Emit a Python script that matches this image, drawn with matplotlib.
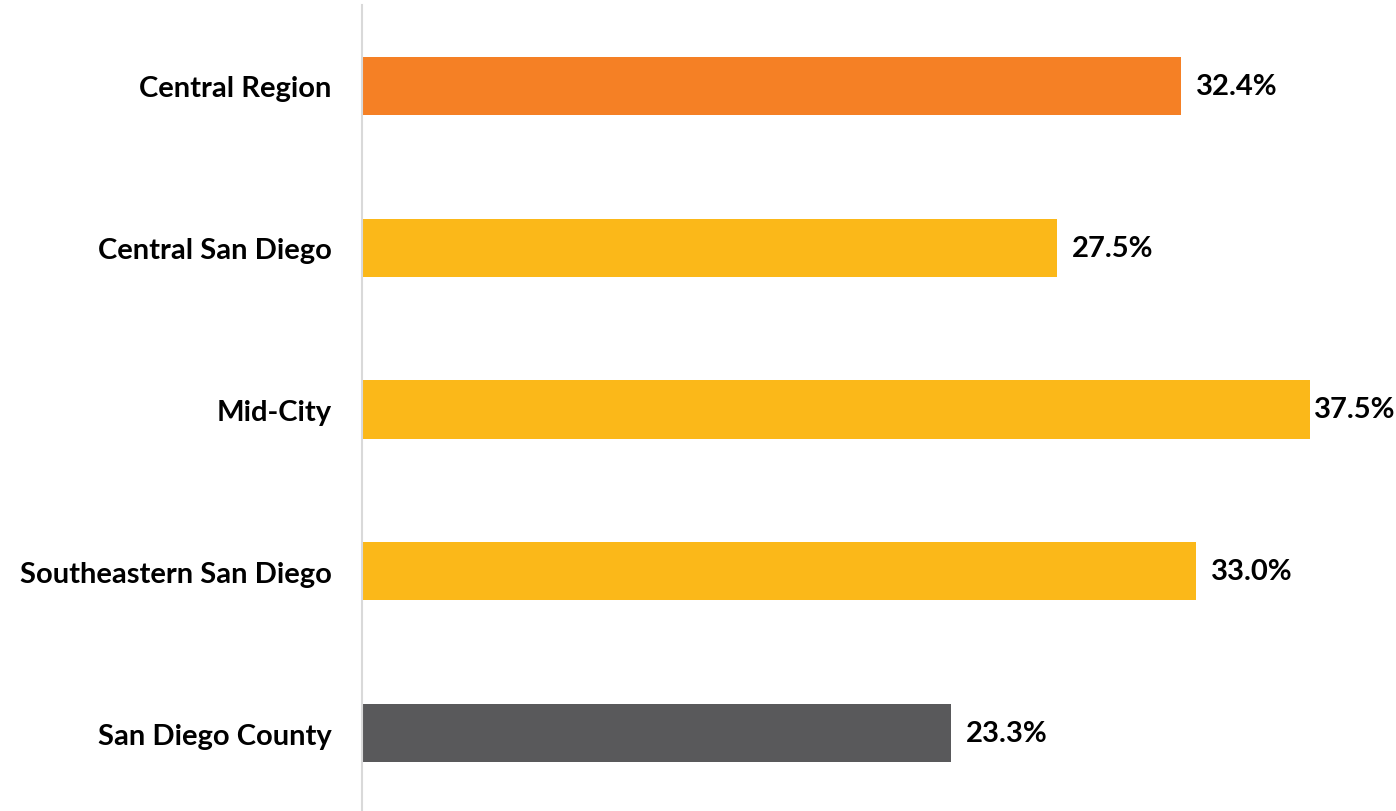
import matplotlib.pyplot as plt

categories = ["Central Region", "Central San Diego", "Mid-City",
              "Southeastern San Diego", "San Diego County"]
values = [32.4, 27.5, 37.5, 33.0, 23.3]
colors = ["#F58025", "#FBB819", "#FBB819", "#FBB819", "#59595B"]

plt.rcParams['font.family'] = ['Lato', 'DejaVu Sans']

fig = plt.figure(figsize=(13.96, 8.12), dpi=100)
ax = fig.add_axes([362 / 1396, -3 / 812, (1373 - 362) / 1396, 809 / 812])

y = list(range(len(categories)))
ax.barh(y, values, height=0.36, color=colors)
ax.set_ylim(len(categories) - 0.5, -0.5)
ax.set_xlim(0, 40)

for yi, v in zip(y, values):
    # labels near the right edge are pulled in so they stay in the frame
    ax.text(min(v + 0.6, 37.65), yi, f"{v:.1f}%", va="center", ha="left",
            fontsize=21, fontweight="bold", color="black", clip_on=False)

ax.set_yticks(y)
ax.set_yticklabels(categories, fontsize=21, fontweight="bold")
ax.tick_params(axis="y", length=0, pad=22)
ax.set_xticks([])

for s in ["top", "right", "bottom"]:
    ax.spines[s].set_visible(False)
ax.spines["left"].set_color("#D9D9D9")
ax.spines["left"].set_linewidth(1.5)

fig.savefig("out.png", dpi=100)
